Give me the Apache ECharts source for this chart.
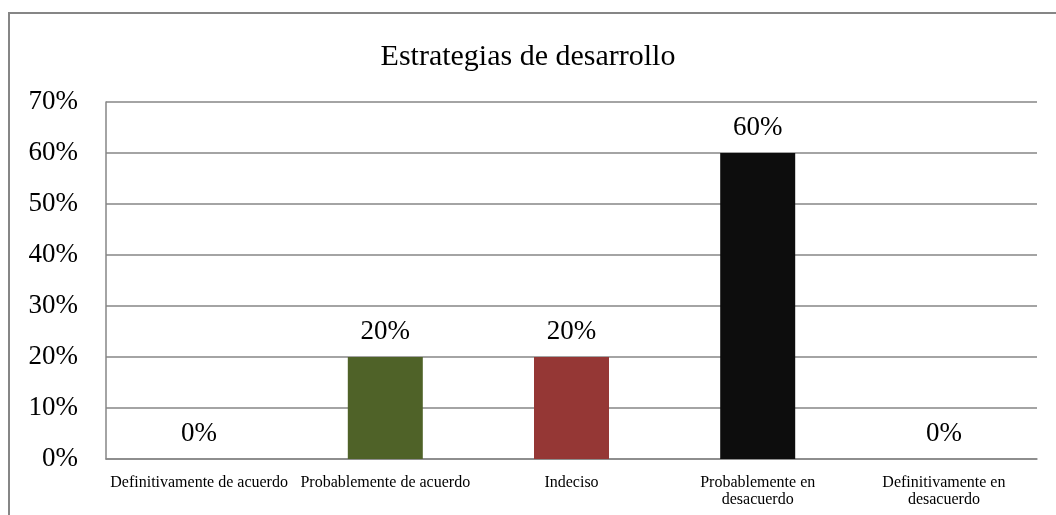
<!DOCTYPE html>
<html>
<head>
<meta charset="utf-8">
<script src="https://cdn.jsdelivr.net/npm/echarts@6/dist/echarts.min.js"></script>
<style>
  html, body { margin: 0; padding: 0; background: #fff; }
  #chart { width: 1056px; height: 515px; }
</style>
</head>
<body>
<div id="chart"></div>
<script>
// categorias (con salto de linea como en el original)
var categorias = [
  'Definitivamente de acuerdo',
  'Probablemente de acuerdo',
  'Indeciso',
  'Probablemente en\ndesacuerdo',
  'Definitivamente en\ndesacuerdo'
];
var porcentajes = [0, 20, 20, 60, 0];
var colores = ['#4F81BD', '#4F6228', '#953735', '#0D0D0D', '#4F81BD'];
var titulo = 'Estrategias de desarrollo';

var fuente = 'Liberation Serif';
var chart = echarts.init(document.getElementById('chart'));

var option = {
  animation: false,
  title: {
    text: titulo,
    left: 'center',
    top: 37,
    textStyle: { fontFamily: fuente, fontSize: 30, fontWeight: 'normal', color: '#000' }
  },
  graphic: [{
    type: 'rect',
    shape: { x: 9, y: 13, width: 1200, height: 700 },
    style: { fill: 'none', stroke: '#868686', lineWidth: 2 },
    silent: true
  }],
  grid: { left: 106, right: 19, top: 102, bottom: 56 },
  xAxis: {
    type: 'category',
    data: categorias,
    axisLine: { lineStyle: { color: '#868686', width: 1.5 } },
    axisTick: { show: false },
    axisLabel: {
      interval: 0,
      margin: 15,
      fontFamily: fuente,
      fontSize: 16,
      lineHeight: 17,
      color: '#000'
    }
  },
  yAxis: {
    type: 'value',
    min: 0,
    max: 70,
    interval: 10,
    axisLine: { show: true, lineStyle: { color: '#868686', width: 1.5 } },
    axisTick: { show: false },
    splitLine: { lineStyle: { color: '#868686', width: 1.5 } },
    axisLabel: {
      margin: 28,
      fontFamily: fuente,
      fontSize: 27,
      color: '#000',
      formatter: '{value}%'
    }
  },
  series: [{
    type: 'bar',
    data: porcentajes.map(function (v, i) {
      return { value: v, itemStyle: { color: colores[i] } };
    }),
    barWidth: 75,
    label: {
      show: true,
      position: 'top',
      distance: 12,
      fontFamily: fuente,
      fontSize: 27,
      color: '#000',
      formatter: '{c}%'
    }
  }]
};
chart.setOption(option);
</script>
</body>
</html>
